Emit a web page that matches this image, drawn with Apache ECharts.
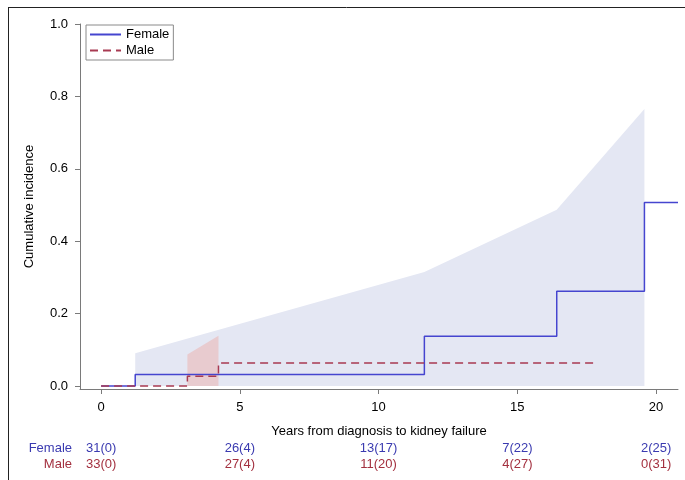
<!DOCTYPE html>
<html><head><meta charset="utf-8">
<script src="https://cdn.jsdelivr.net/npm/echarts/dist/echarts.min.js"></script>
<style>html,body{margin:0;padding:0;background:#fff}#c{width:685px;height:480px}</style>
</head><body><div id="c"></div><script>
// Cumulative incidence step data
const femaleTimes = [0, 1.23, 11.65, 16.42, 19.58, 20.79];
const femaleCIF   = [0, 0.032, 0.138, 0.262, 0.507, 0.507];
const maleTimes   = [0, 3.11, 4.23, 17.8];
const maleCIF     = [0, 0.027, 0.0635, 0.0635];
// Confidence band upper limits (lower limit at 0)
const femaleBandTimes = [1.23, 11.65, 16.42, 19.58];
const femaleBandUpper = [0.091, 0.315, 0.487, 0.765];
const maleBandTimes   = [3.11, 4.23];
const maleBandUpper   = [0.087, 0.139];
// Axis ticks
const xTicks = [0, 5, 10, 15, 20];
const yTicks = [0, 0.2, 0.4, 0.6, 0.8, 1.0];
// Numbers at risk (cumulative events)
const femaleAtRisk = [31, 26, 13, 7, 2];
const femaleEvents = [0, 4, 17, 22, 25];
const maleAtRisk   = [33, 27, 11, 4, 0];
const maleEvents   = [0, 4, 20, 27, 31];

const FONT = '"Liberation Sans", Arial, sans-serif';
const blueLine = '#4545CF', blueText = '#3A3AB0';
const redLine = '#A83A52', redText = '#A3303F';
const axisCol = '#7a7a7a';

const zip = (a, b) => a.map((v, i) => [v, b[i]]);

const chart = echarts.init(document.getElementById('c'), null, {renderer: 'canvas'});
chart.setOption({
  animation: false,
  backgroundColor: '#fff',
  grid: {left: 80, right: 7, top: 24, bottom: 91, containLabel: false},
  legend: {
    data: ['Female', 'Male'],
    orient: 'vertical',
    left: 86, top: 25,
    padding: [3, 4, 3, 3],
    itemGap: 3,
    itemWidth: 31, itemHeight: 10,
    itemStyle: {opacity: 0},
    borderColor: '#8a8a8a', borderWidth: 1,
    textStyle: {fontFamily: FONT, fontSize: 13, color: '#000'}
  },
  xAxis: {
    type: 'value', min: -0.76, max: 20.79,
    name: 'Years from diagnosis to kidney failure',
    nameLocation: 'middle', nameGap: 36,
    nameTextStyle: {fontFamily: FONT, fontSize: 13, color: '#000'},
    axisLine: {show: true, onZero: false, lineStyle: {color: axisCol}},
    axisTick: {show: true, length: 5, customValues: xTicks, lineStyle: {color: axisCol}},
    axisLabel: {customValues: xTicks, margin: 12, fontFamily: FONT, fontSize: 13, color: '#000'},
    splitLine: {show: false}
  },
  yAxis: {
    type: 'value', min: -0.008, max: 1.0,
    name: 'Cumulative incidence',
    nameLocation: 'middle', nameGap: 44, nameRotate: 90,
    nameTextStyle: {fontFamily: FONT, fontSize: 13, color: '#000'},
    axisLine: {show: true, onZero: false, lineStyle: {color: axisCol}},
    axisTick: {show: true, length: 5, customValues: yTicks, lineStyle: {color: axisCol}},
    axisLabel: {customValues: yTicks, margin: 12, fontFamily: FONT, fontSize: 13, color: '#000',
      formatter: v => v.toFixed(1)},
    splitLine: {show: false}
  },
  series: [
    {name: 'Female band', type: 'line', data: zip(femaleBandTimes, femaleBandUpper),
      symbol: 'none', lineStyle: {width: 0, opacity: 0}, areaStyle: {color: '#E4E7F3', opacity: 1}, z: 1, silent: true},
    {name: 'Male band', type: 'line', data: zip(maleBandTimes, maleBandUpper),
      symbol: 'none', lineStyle: {width: 0, opacity: 0}, areaStyle: {color: '#E8CBCF', opacity: 1}, z: 2, silent: true},
    {name: 'Female', type: 'line', step: 'end', data: zip(femaleTimes, femaleCIF),
      symbol: 'none', color: blueLine, lineStyle: {width: 1.5, color: blueLine}, z: 3},
    {name: 'Male', type: 'line', step: 'end', data: zip(maleTimes, maleCIF),
      symbol: 'none', color: redLine, lineStyle: {width: 1.5, color: redLine, type: [8, 5]}, z: 4}
  ]
});

const g = [
  {type: 'line', shape: {x1: 8, y1: 7.5, x2: 685, y2: 7.5}, style: {stroke: '#222', lineWidth: 1}},
  {type: 'line', shape: {x1: 8.5, y1: 7, x2: 8.5, y2: 480}, style: {stroke: '#222', lineWidth: 1}},
  {type: 'text', x: 72, y: 448, style: {text: 'Female', fill: blueText, font: '13px ' + FONT, textAlign: 'right', textVerticalAlign: 'middle'}},
  {type: 'text', x: 72, y: 464, style: {text: 'Male', fill: redText, font: '13px ' + FONT, textAlign: 'right', textVerticalAlign: 'middle'}}
];
xTicks.forEach((t, i) => {
  const px = chart.convertToPixel({xAxisIndex: 0}, t);
  g.push({type: 'text', x: px, y: 448, style: {text: femaleAtRisk[i] + '(' + femaleEvents[i] + ')', fill: blueText, font: '13px ' + FONT, textAlign: 'center', textVerticalAlign: 'middle'}});
  g.push({type: 'text', x: px, y: 464, style: {text: maleAtRisk[i] + '(' + maleEvents[i] + ')', fill: redText, font: '13px ' + FONT, textAlign: 'center', textVerticalAlign: 'middle'}});
});
chart.setOption({graphic: g});
</script></body></html>
